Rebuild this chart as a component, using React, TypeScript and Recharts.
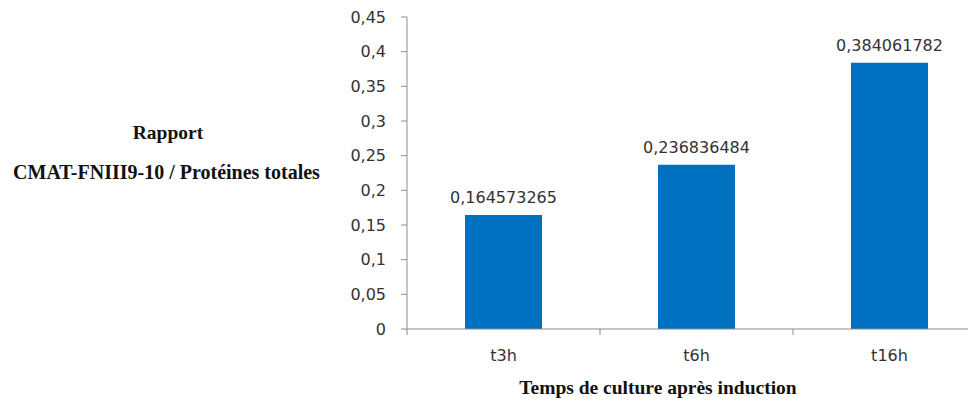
import {Bar, BarChart, LabelList, XAxis, YAxis} from 'recharts'

const categories = ['t3h', 't6h', 't16h']
const ratios = [0.164573265, 0.236836484, 0.384061782]
const yTicks = [0, 0.05, 0.1, 0.15, 0.2, 0.25, 0.3, 0.35, 0.4, 0.45]

const data = categories.map((name, i) => ({name, value: ratios[i]}))

const toComma = (v: number | string) => String(v).replace('.', ',')

const AXIS_COLOR = '#8c8c8c'
const TEXT_COLOR = '#333333'
const SANS = '"DejaVu Sans", sans-serif'
const serifTitle = {
    position: 'absolute' as const,
    fontFamily: '"Liberation Serif", "Times New Roman", serif',
    fontWeight: 'bold' as const,
    color: '#111',
    textAlign: 'center' as const,
    whiteSpace: 'nowrap' as const,
}

// category label plus Excel-style tick marks on the category boundaries
const CategoryTick = (props: any) => {
    const {x, y, payload, index, visibleTicksCount} = props
    const half = payload.offset || 0
    const isLast = index === visibleTicksCount - 1
    return (
        <g>
            <line x1={x - half} x2={x - half} y1={y} y2={y + 6} stroke={AXIS_COLOR}/>
            {isLast && <line x1={x + half} x2={x + half} y1={y} y2={y + 6} stroke={AXIS_COLOR}/>}
            <text x={x} y={y + 32} textAnchor="middle" fill={TEXT_COLOR} fontSize={16} fontFamily={SANS}>
                {payload.value}
            </text>
        </g>
    )
}

export default function App() {
    return (
        <div style={{position: 'relative', width: 968, height: 395, overflow: 'hidden'}}>
            <BarChart width={984} height={395} data={data} margin={{top: 9, right: 6, bottom: 0, left: 0}}>
                <XAxis
                    dataKey="name"
                    height={74}
                    stroke={AXIS_COLOR}
                    tickLine={false}
                    tickSize={0}
                    tickMargin={0}
                    interval={0}
                    tick={<CategoryTick/>}
                />
                <YAxis
                    width={399}
                    domain={[0, 0.45]}
                    ticks={yTicks}
                    interval={0}
                    stroke={AXIS_COLOR}
                    tickSize={6}
                    tickMargin={15}
                    tick={{fill: TEXT_COLOR, fontSize: 16, fontFamily: SANS}}
                    tickFormatter={toComma}
                />
                <Bar dataKey="value" fill="#0070C0" barSize={77} isAnimationActive={false}>
                    <LabelList
                        dataKey="value"
                        position="top"
                        offset={12}
                        formatter={toComma}
                        style={{fill: TEXT_COLOR, fontSize: 16, fontFamily: SANS}}
                    />
                </Bar>
            </BarChart>
            <div style={{...serifTitle, left: 60, width: 200, top: 115, fontSize: 19.5, lineHeight: '19.5px'}}>
                Rapport
            </div>
            <div style={{...serifTitle, left: 0, width: 317, top: 154, fontSize: 20, lineHeight: '20px'}}>
                CMAT-FNIII9-10 / Protéines totales
            </div>
            <div style={{...serifTitle, left: 450, width: 400, top: 370, fontSize: 19.5, lineHeight: '19.5px'}}>
                Temps de culture après induction
            </div>
        </div>
    )
}
